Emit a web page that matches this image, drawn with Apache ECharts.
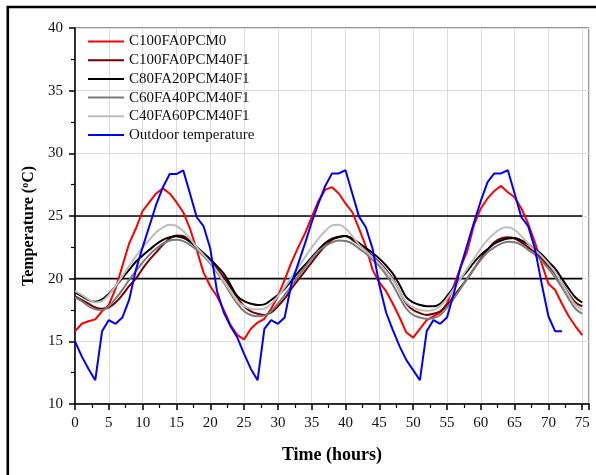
<!DOCTYPE html>
<html>
<head>
<meta charset="utf-8">
<script src="https://cdn.jsdelivr.net/npm/echarts@6/dist/echarts.min.js"></script>
<style>
  html, body { margin: 0; padding: 0; background: #fff; }
  #chart { width: 596px; height: 475px; }
</style>
</head>
<body>
<div id="chart"></div>
<script>
// ---- data ----
const hours = [0,1,2,3,4,5,6,7,8,9,10,11,12,13,14,15,16,17,18,19,20,21,22,23,24,25,26,27,28,29,30,31,32,33,34,35,36,37,38,39,40,41,42,43,44,45,46,47,48,49,50,51,52,53,54,55,56,57,58,59,60,61,62,63,64,65,66,67,68,69,70,71,72,73,74,75];

const seriesNames = ['C100FA0PCM0', 'C100FA0PCM40F1', 'C80FA20PCM40F1', 'C60FA40PCM40F1', 'C40FA60PCM40F1', 'Outdoor temperature'];

const c100fa0pcm0 = [15.8,16.4,16.6,16.75,17.4,17.9,19.2,21.0,22.8,24.0,
  25.4,26.1,26.8,27.2,26.8,26.1,25.3,24.0,22.3,20.5,
  19.4,18.6,17.5,16.3,15.5,15.15,16.0,16.5,16.8,17.6,
  18.6,19.9,21.3,22.5,23.6,24.9,26.2,27.1,27.3,26.8,
  26.0,25.3,24.0,22.6,20.7,19.7,19.0,18.0,16.9,15.7,
  15.3,16.0,16.7,17.0,17.3,18.0,19.4,20.9,22.2,24.3,
  25.6,26.4,27.0,27.4,26.9,26.5,25.6,24.4,22.9,21.2,
  19.6,19.1,18.0,17.0,16.2,15.5];

const c100fa0pcm40f1 = [18.6,18.3,18.0,17.7,17.6,17.7,18.1,18.7,19.4,20.0,
  20.8,21.5,22.1,22.7,23.2,23.45,23.4,23.0,22.5,22.0,
  21.4,20.8,20.1,19.3,18.5,17.8,17.4,17.2,17.1,17.3,
  17.8,18.4,19.2,19.9,20.6,21.3,22.0,22.6,23.1,23.3,
  23.4,23.1,22.7,22.3,21.8,21.3,20.7,20.0,19.0,18.0,
  17.5,17.25,17.1,17.2,17.4,17.9,18.6,19.3,20.0,20.8,
  21.6,22.3,22.9,23.2,23.3,23.2,22.9,22.5,22.1,21.6,
  21.0,20.4,19.6,18.8,18.1,17.8];

const c80fa20pcm40f1 = [18.9,18.6,18.3,18.15,18.35,18.8,19.4,20.05,20.7,21.35,
  21.85,22.3,22.75,23.1,23.3,23.38,23.25,22.95,22.5,22.05,
  21.55,21.0,20.4,19.5,18.6,18.2,18.0,17.9,17.95,18.3,
  18.7,19.2,19.85,20.5,21.1,21.7,22.3,22.85,23.2,23.35,
  23.4,23.2,22.85,22.45,22.05,21.6,21.05,20.4,19.5,18.5,
  18.1,17.9,17.8,17.8,18.0,18.6,19.3,20.0,20.6,21.3,
  21.9,22.35,22.8,23.05,23.2,23.25,23.05,22.75,22.35,21.95,
  21.35,20.8,20.0,19.2,18.5,18.1];

const c60fa40pcm40f1 = [18.5,18.2,17.8,17.55,17.5,17.8,18.4,19.1,19.9,20.6,
  21.3,21.9,22.4,22.8,23.05,23.1,23.0,22.7,22.3,21.8,
  21.2,20.5,19.7,18.8,18.0,17.4,17.1,17.0,17.05,17.4,
  18.0,18.7,19.4,20.2,20.9,21.6,22.2,22.6,22.9,23.05,
  23.0,22.8,22.4,22.0,21.5,21.0,20.3,19.5,18.5,17.6,
  17.1,16.9,16.8,16.85,17.1,17.7,18.4,19.2,20.0,20.8,
  21.5,22.1,22.5,22.8,22.95,22.9,22.7,22.3,21.9,21.4,
  20.8,20.1,19.3,18.4,17.6,17.2];

const c40fa60pcm40f1 = [19.0,18.7,18.35,18.1,18.2,18.7,19.4,20.2,21.0,21.8,
  22.5,23.1,23.7,24.1,24.3,24.2,23.8,23.2,22.5,21.9,
  21.3,20.6,19.8,19.0,18.2,17.8,17.6,17.55,17.6,18.0,
  18.6,19.3,20.1,20.9,21.7,22.5,23.2,23.8,24.25,24.3,
  24.0,23.4,22.7,22.2,21.7,21.2,20.6,19.9,19.0,18.1,
  17.7,17.5,17.45,17.5,17.8,18.4,19.2,20.0,20.8,21.6,
  22.4,23.1,23.6,24.0,24.1,23.9,23.4,22.8,22.3,21.8,
  21.2,20.5,19.6,18.7,17.9,17.5];

const outdoor = [15.0,13.8,12.8,11.9,15.8,16.7,16.4,16.9,18.3,20.7,
  22.5,24.2,25.9,27.3,28.35,28.35,28.65,26.8,24.9,24.2,
  22.4,19.0,17.3,16.2,15.3,14.0,12.8,11.9,16.0,16.7,
  16.4,16.9,19.6,21.2,22.8,24.5,26.0,27.4,28.4,28.4,
  28.65,26.8,24.95,24.1,22.4,19.5,17.3,15.9,14.6,13.5,
  12.7,11.9,15.8,16.7,16.4,16.9,18.8,20.9,22.7,24.5,
  26.2,27.7,28.4,28.4,28.65,26.8,24.9,24.2,22.4,19.6,
  17.0,15.8,15.8];

const refLevels = [20, 25];
const refSpan = [0, 75];

const xTicks = { min: 0, max: 76, interval: 5 };
const yTicks = { min: 10, max: 40, interval: 5 };

// ---- chart ----
const FONT = 'Liberation Serif';
const colors = ['#ff0000', '#7a0000', '#000000', '#7a7a7a', '#bdbdbd', '#0000ff'];
const valueSets = [c100fa0pcm0, c100fa0pcm40f1, c80fa20pcm40f1, c60fa40pcm40f1, c40fa60pcm40f1, outdoor];

function pairs(arr) { return arr.map((v, i) => [hours[i], v]); }

const series = [];
refLevels.forEach(function (lv) {
  series.push({
    name: 'ref' + lv, type: 'line', silent: true, symbol: 'none',
    data: refSpan.map(function (h) { return [h, lv]; }),
    lineStyle: { color: '#000', width: 1.6 }, z: 1
  });
});
seriesNames.forEach(function (nm, k) {
  series.push({
    name: nm, type: 'line', symbol: 'none',
    smooth: (k >= 1 && k <= 4) ? 0.35 : false,
    data: pairs(valueSets[k]),
    lineStyle: { color: colors[k], width: 2 },
    itemStyle: { color: colors[k] },
    z: 2 + k
  });
});

const chart = echarts.init(document.getElementById('chart'), null, { renderer: 'canvas' });
chart.setOption({
  animation: false,
  backgroundColor: '#ffffff',
  graphic: [{
    type: 'rect', shape: { x: 7.8, y: 7, width: 620, height: 500 },
    style: { fill: 'none', stroke: '#000', lineWidth: 2.6 }, silent: true, z: 100
  }],
  grid: { left: 75, right: 7, top: 28, bottom: 71, show: true, borderColor: '#333', borderWidth: 1 },
  legend: {
    data: seriesNames, orient: 'vertical', left: 83, top: 29,
    itemWidth: 36, itemHeight: 14, itemGap: 3.7,
    icon: 'path://M0,6 L36,6 L36,8 L0,8 Z',
    textStyle: { fontFamily: FONT, fontSize: 15, color: '#111' }
  },
  xAxis: {
    type: 'value', min: xTicks.min, max: xTicks.max, interval: xTicks.interval,
    name: 'Time (hours)', nameLocation: 'middle', nameGap: 42,
    nameTextStyle: { fontFamily: FONT, fontSize: 18, fontWeight: 'bold', color: '#000' },
    axisLine: { lineStyle: { color: '#000', width: 1.5 } },
    axisTick: { show: true, length: 6, lineStyle: { color: '#000', width: 1.5 } },
    minorTick: { show: true, splitNumber: 2, length: 4, lineStyle: { color: '#000', width: 1.2 } },
    axisLabel: { fontFamily: FONT, fontSize: 15, color: '#111', margin: 12, showMaxLabel: false },
    splitLine: { show: true, lineStyle: { color: '#dcdcdc', width: 1 } }
  },
  yAxis: {
    type: 'value', min: yTicks.min, max: yTicks.max, interval: yTicks.interval,
    name: 'Temperature ({s|o}C)', nameLocation: 'middle', nameGap: 38,
    nameTextStyle: {
      fontFamily: FONT, fontSize: 16, fontWeight: 'bold', color: '#000',
      padding: [0, 20, 0, 0],
      rich: { s: { fontFamily: FONT, fontSize: 10, fontWeight: 'bold', color: '#000', padding: [0, 0, 7, 0] } }
    },
    axisLine: { show: true, lineStyle: { color: '#000', width: 1.5 } },
    axisTick: { show: true, length: 6, lineStyle: { color: '#000', width: 1.5 } },
    minorTick: { show: true, splitNumber: 2, length: 4, lineStyle: { color: '#000', width: 1.2 } },
    axisLabel: { fontFamily: FONT, fontSize: 15, color: '#111', margin: 12 },
    splitLine: { show: true, lineStyle: { color: '#dcdcdc', width: 1 } }
  },
  series: series
});
</script>
</body>
</html>
